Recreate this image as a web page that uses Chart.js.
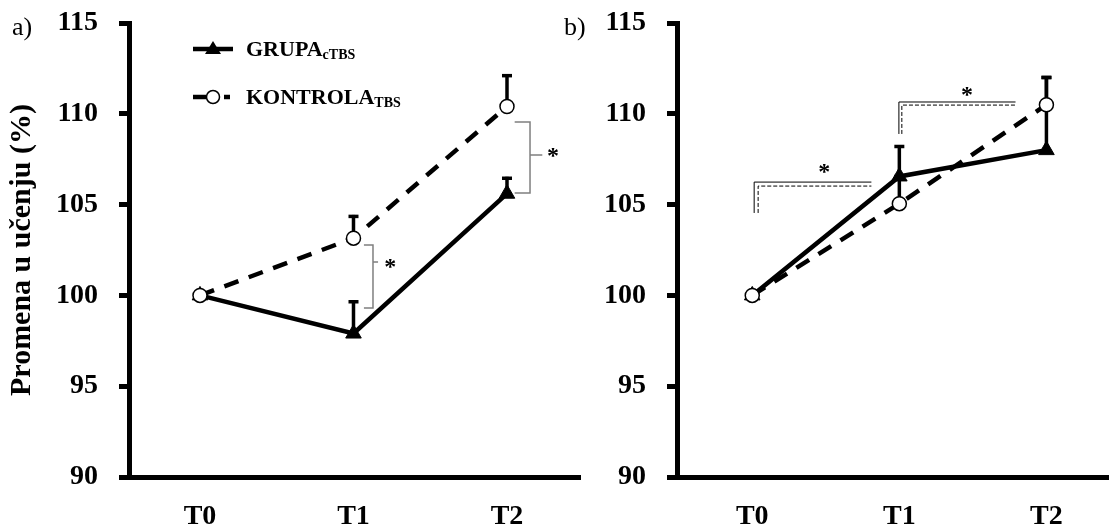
<!DOCTYPE html>
<html><head><meta charset="utf-8">
<script src="https://cdn.jsdelivr.net/npm/chart.js@4/dist/chart.umd.min.js"></script>
<style>
html,body{margin:0;padding:0;background:#fff;width:1118px;height:528px;overflow:hidden;font-family:'Liberation Serif','Times New Roman',serif;color:#000}
#ca{position:absolute;left:0;top:0}
#cb{position:absolute;left:560px;top:0}
.lab{position:absolute;font-size:26px;line-height:26px}
.leg{position:absolute;left:190px;height:24px;font-weight:bold;font-size:22px;line-height:24px;white-space:nowrap}
.leg svg{position:absolute;left:0;top:2px}
.leg span{position:absolute;left:56px;top:0}
.leg sub{font-size:14px;vertical-align:baseline;position:relative;top:3px}
</style></head>
<body>
<canvas id="ca" width="590" height="528"></canvas>
<canvas id="cb" width="558" height="528"></canvas>
<div class="lab" style="left:12px;top:14px">a)</div>
<div class="lab" style="left:564px;top:14px">b)</div>
<div class="leg" style="top:37px">
  <svg width="50" height="20"><line x1="3" y1="10" x2="43" y2="10" stroke="#000" stroke-width="4.5"/><polygon points="23,2 31,15 15,15" fill="#000"/></svg>
  <span>GRUPA<sub>cTBS</sub></span>
</div>
<div class="leg" style="top:85px">
  <svg width="50" height="20"><line x1="3" y1="10" x2="16" y2="10" stroke="#000" stroke-width="4.5"/><circle cx="23" cy="10" r="6.5" fill="#fff" stroke="#000" stroke-width="1.5"/><line x1="34" y1="10" x2="40" y2="10" stroke="#000" stroke-width="4.5"/></svg>
  <span>KONTROLA<sub>TBS</sub></span>
</div>
<script>
// ---- data ----
const categories = ['T0', 'T1', 'T2'];
const yTicks = [90, 95, 100, 105, 110, 115];
const yTitle = 'Promena u učenju (%)';
const grupaA = [100, 97.9, 105.6];
const grupaAErr = [0, 1.75, 0.85];
const kontrolaA = [100, 103.15, 110.4];
const kontrolaAErr = [0, 1.2, 1.7];
const grupaB = [100, 106.55, 108.0];
const grupaBErr = [0, 1.65, 4.0];
const kontrolaB = [100, 105.05, 110.5];
const kontrolaBErr = [0, 1.5, 1.5];
// significance markers (data units)
const bracesA = [
  {x0: 1.068, x1: 1.127, x2: 1.16, yTop: 102.78, yBot: 99.31, yMid: 101.84, sx: 1.24, sy: 101.8},
  {x0: 2.05, x1: 2.15, x2: 2.23, yTop: 109.55, yBot: 105.64, yMid: 107.73, sx: 2.30, sy: 107.9}
];
const stepsB = [
  {xs: 0.013, xd: 0.04, xe: 0.81, yS: 106.24, yD: 106.02, yBot: 104.54, sx: 0.49, sy: 107.02},
  {xs: 0.997, xd: 1.017, xe: 1.79, yS: 110.65, yD: 110.48, yBot: 108.89, sx: 1.46, sy: 111.26}
];

const FONT = "'Liberation Serif', 'Times New Roman', serif";

const errorBars = {
  id: 'errorBars',
  beforeDatasetsDraw(chart) {
    const ctx = chart.ctx, xs = chart.scales.x, ys = chart.scales.y;
    ctx.save();
    ctx.strokeStyle = '#000';
    ctx.lineWidth = 3.5;
    chart.data.datasets.forEach(ds => {
      (ds.errUp || []).forEach((e, i) => {
        if (!e) return;
        const v = ds.data[i].y;
        const x = xs.getPixelForValue(i);
        const y0 = ys.getPixelForValue(v), y1 = ys.getPixelForValue(v + e);
        ctx.beginPath(); ctx.moveTo(x, y0); ctx.lineTo(x, y1 - 1.5); ctx.stroke();
        ctx.beginPath(); ctx.moveTo(x - 5, y1); ctx.lineTo(x + 5, y1); ctx.stroke();
      });
    });
    ctx.restore();
  }
};

const sigMarks = {
  id: 'sigMarks',
  afterDatasetsDraw(chart, args, opts) {
    const ctx = chart.ctx, xs = chart.scales.x, ys = chart.scales.y;
    const X = v => xs.getPixelForValue(v), Y = v => ys.getPixelForValue(v);
    ctx.save();
    ctx.font = 'bold 24px ' + FONT;
    ctx.textAlign = 'center';
    ctx.textBaseline = 'middle';
    (opts.braces || []).forEach(b => {
      ctx.strokeStyle = '#7f7f7f'; ctx.lineWidth = 1.5;
      ctx.beginPath();
      ctx.moveTo(X(b.x0), Y(b.yTop)); ctx.lineTo(X(b.x1), Y(b.yTop));
      ctx.lineTo(X(b.x1), Y(b.yBot)); ctx.lineTo(X(b.x0), Y(b.yBot));
      ctx.moveTo(X(b.x1), Y(b.yMid)); ctx.lineTo(X(b.x2), Y(b.yMid));
      ctx.stroke();
      ctx.fillStyle = '#000';
      ctx.fillText('*', X(b.sx), Y(b.sy) + 5);
    });
    (opts.steps || []).forEach(s => {
      ctx.strokeStyle = '#000'; ctx.lineWidth = 1;
      ctx.setLineDash([]);
      ctx.beginPath();
      ctx.moveTo(X(s.xs), Y(s.yBot)); ctx.lineTo(X(s.xs), Y(s.yS)); ctx.lineTo(X(s.xe), Y(s.yS));
      ctx.stroke();
      ctx.setLineDash([4, 2]);
      ctx.beginPath();
      ctx.moveTo(X(s.xd), Y(s.yBot)); ctx.lineTo(X(s.xd), Y(s.yD)); ctx.lineTo(X(s.xe), Y(s.yD));
      ctx.stroke();
      ctx.setLineDash([]);
      ctx.fillStyle = '#000';
      ctx.fillText('*', X(s.sx), Y(s.sy) + 5);
    });
    ctx.restore();
  }
};

function pts(arr) { return arr.map((v, i) => ({x: i, y: v})); }

function makeChart(id, grupa, grupaErr, kontrola, kontrolaErr, xmin, xmax, yw, padRight, withTitle, sig) {
  return new Chart(document.getElementById(id), {
    type: 'line',
    data: {
      datasets: [
        {
          label: 'KONTROLA', data: pts(kontrola), errUp: kontrolaErr,
          borderColor: '#000', borderWidth: 4.5, borderDash: [15, 11],
          pointStyle: 'circle', pointRadius: 7, pointBackgroundColor: '#fff',
          pointBorderColor: '#000', pointBorderWidth: 1.5, tension: 0, clip: false
        },
        {
          label: 'GRUPA', data: pts(grupa), errUp: grupaErr,
          borderColor: '#000', borderWidth: 4.5,
          pointStyle: 'triangle', pointRadius: 9, pointBackgroundColor: '#000',
          pointBorderColor: '#000', pointBorderWidth: 1, tension: 0, clip: false
        }
      ]
    },
    options: {
      responsive: false, animation: false,
      layout: {padding: {top: 23, right: padRight, bottom: 0, left: 0}},
      plugins: {legend: {display: false}, tooltip: {enabled: false}, sigMarks: sig},
      scales: {
        x: {
          type: 'linear', min: xmin, max: xmax,
          afterBuildTicks: s => { s.ticks = categories.map((c, i) => ({value: i})); },
          afterFit: s => { s.height = 51; s.paddingLeft = 0; s.paddingRight = 0; },
          ticks: {callback: v => categories[v], color: '#000', font: {family: FONT, size: 28, weight: 'bold'}, padding: 23, maxRotation: 0, autoSkip: false},
          grid: {drawOnChartArea: false, drawTicks: false},
          border: {color: '#000', width: 5}
        },
        y: {
          min: 90, max: 115,
          afterBuildTicks: s => { s.ticks = yTicks.map(v => ({value: v})); },
          afterFit: s => { s.width = yw; s.paddingTop = 0; s.paddingBottom = 0; },
          ticks: {color: '#000', font: {family: FONT, size: 28, weight: 'bold'}, padding: 21},
          grid: {drawOnChartArea: false, drawTicks: true, tickLength: 10, tickWidth: 5, tickColor: '#000'},
          border: {color: '#000', width: 5},
          title: {display: withTitle, text: yTitle, color: '#000', font: {family: FONT, size: 30, weight: 'bold'}, padding: {top: 4, bottom: 0}}
        }
      }
    },
    plugins: [errorBars, sigMarks]
  });
}

makeChart('ca', grupaA, grupaAErr, kontrolaA, kontrolaAErr, -0.4625, 2.4756, 129, 10, true, {braces: bracesA});
makeChart('cb', grupaB, grupaBErr, kontrolaB, kontrolaBErr, -0.5116, 2.4186, 117, 0, false, {steps: stepsB});
</script>
</body></html>
